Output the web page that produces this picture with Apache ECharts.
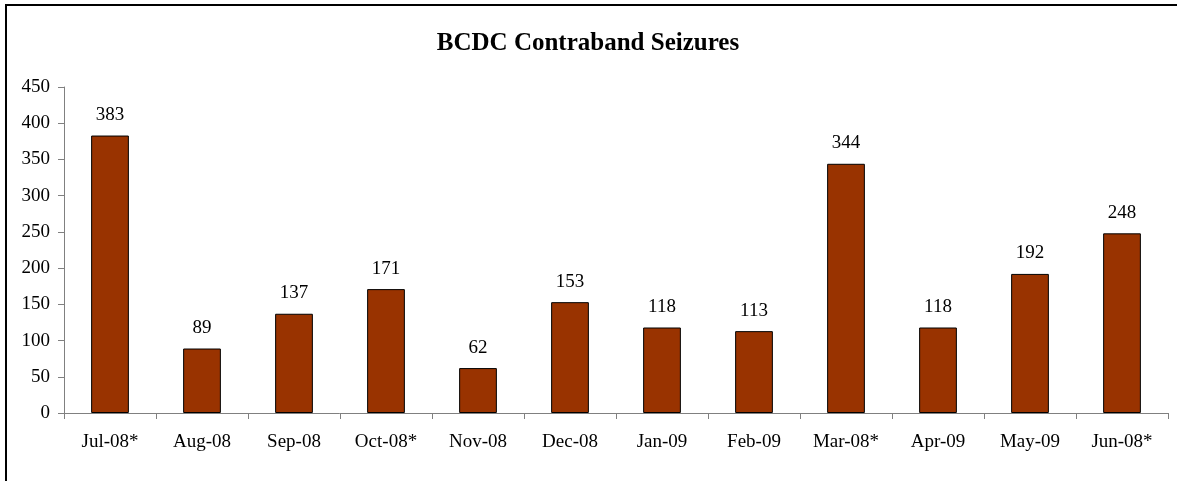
<!DOCTYPE html>
<html>
<head>
<meta charset="utf-8">
<script src="https://cdn.jsdelivr.net/npm/echarts@6/dist/echarts.min.js"></script>
<style>
html,body{margin:0;padding:0;background:#fff;}
#chart{width:1177px;height:481px;}
</style>
</head>
<body>
<div id="chart"></div>
<script>
const categories = ['Jul-08*','Aug-08','Sep-08','Oct-08*','Nov-08','Dec-08','Jan-09','Feb-09','Mar-08*','Apr-09','May-09','Jun-08*'];
const seizures = [383, 89, 137, 171, 62, 153, 118, 113, 344, 118, 192, 248];
const yTicks = { min: 0, max: 450, interval: 50 };

const serif = '"Liberation Serif", "Times New Roman", serif';
const chart = echarts.init(document.getElementById('chart'), null, { renderer: 'canvas' });
chart.setOption({
  animation: false,
  backgroundColor: '#fff',
  title: {
    text: 'BCDC Contraband Seizures',
    left: 583, top: 26, textAlign: 'center',
    textStyle: { fontFamily: serif, fontWeight: 'bold', fontSize: 25, color: '#000' }
  },
  graphic: [{
    type: 'rect',
    shape: { x: 6, y: 5, width: 1300, height: 600 },
    style: { fill: 'none', stroke: '#000', lineWidth: 2 },
    silent: true
  }],
  grid: { left: 64, right: 9, top: 87, bottom: 68, containLabel: false },
  xAxis: {
    type: 'category',
    data: categories,
    axisLine: { lineStyle: { color: '#808080', width: 1 } },
    axisTick: { show: true, alignWithLabel: false, length: 6, lineStyle: { color: '#808080' } },
    axisLabel: { fontFamily: serif, fontSize: 19, color: '#000', margin: 20 }
  },
  yAxis: {
    type: 'value',
    min: yTicks.min, max: yTicks.max, interval: yTicks.interval,
    axisLine: { show: true, lineStyle: { color: '#808080', width: 1 } },
    axisTick: { show: true, length: 6, lineStyle: { color: '#808080' } },
    splitLine: { show: false },
    axisLabel: { fontFamily: serif, fontSize: 19, color: '#000', margin: 14 }
  },
  series: [{
    type: 'bar',
    data: seizures,
    barWidth: '41%',
    itemStyle: { color: '#993300', borderColor: '#000', borderWidth: 1 },
    label: {
      show: true, position: 'top', distance: 11,
      fontFamily: serif, fontSize: 19, color: '#000'
    }
  }]
});
</script>
</body>
</html>
